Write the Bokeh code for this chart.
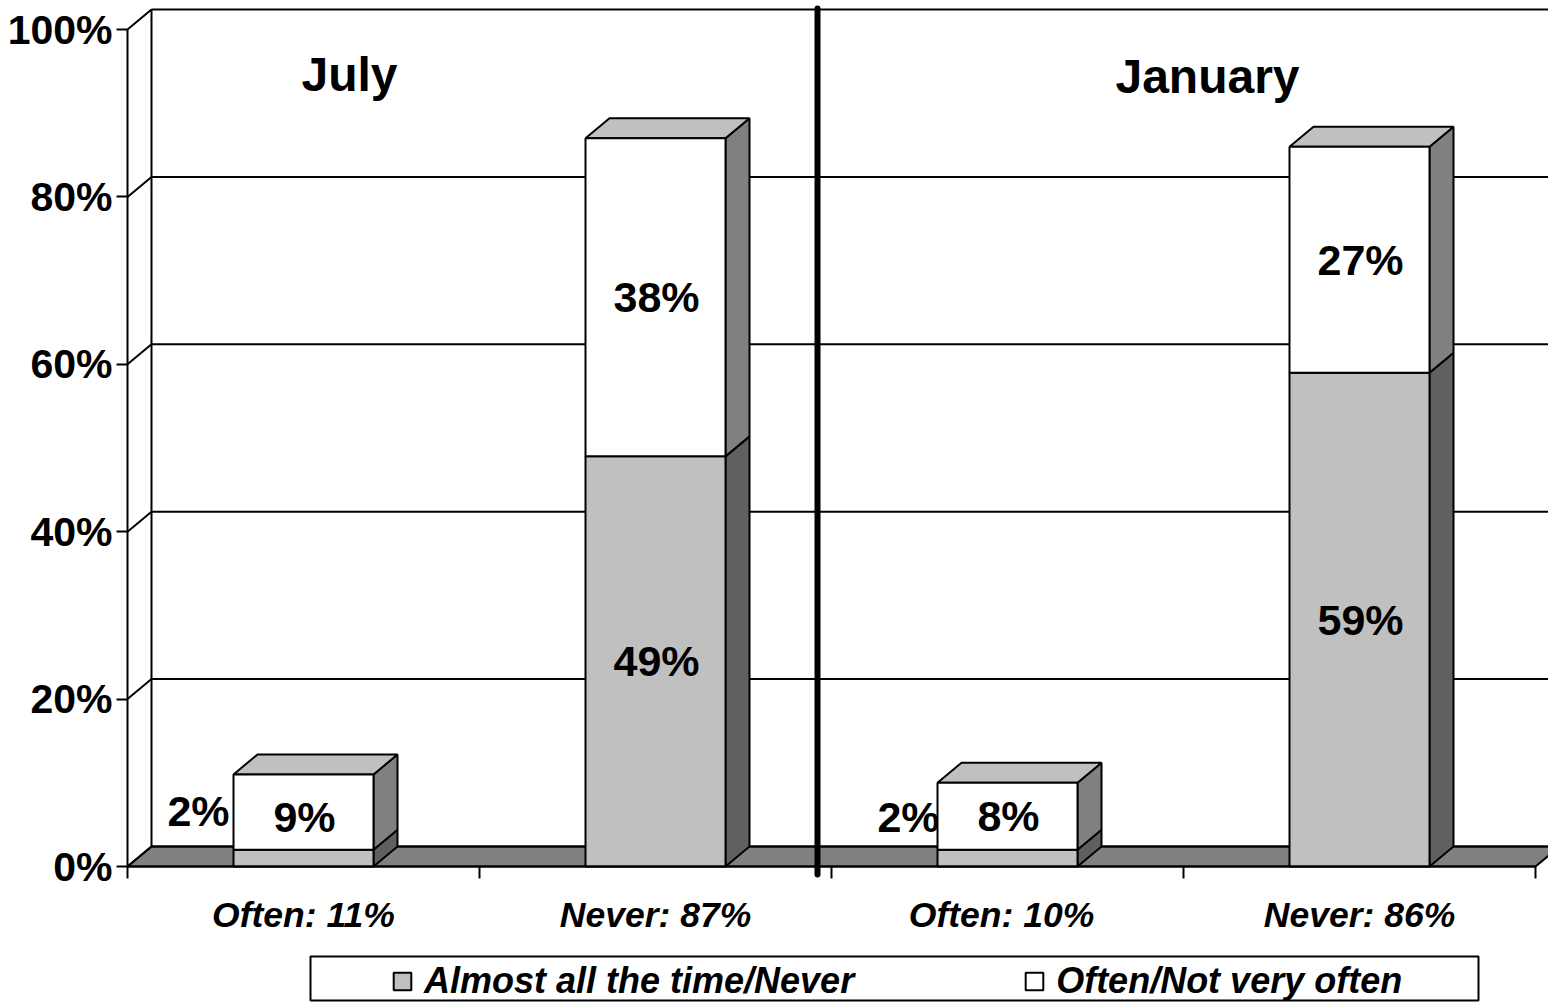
from bokeh.plotting import figure
from bokeh.embed import file_html
from bokeh.resources import INLINE
from bokeh.core.properties import value
from bokeh.models import FixedTicker, Range1d, LinearAxis, Legend, LegendItem, BoxAnnotation

# ---- data
categories = ["Often: 11%", "Never: 87%", "Often: 10%", "Never: 86%"]
almost_all = [2, 49, 2, 59]
often_not = [9, 38, 8, 27]
y_ticks = [0, 20, 40, 60, 80, 100]
y_tick_labels = ["0%", "20%", "40%", "60%", "80%", "100%"]
low_label_text = ["2%", "49%", "2%", "59%"]
high_label_text = ["9%", "38%", "8%", "27%"]
legend_labels = ["Almost all the time/Never", "Often/Not very often"]
period_titles = ["July", "January"]

# ---- layout (page pixels -> data units)
W, H = 1548, 1002
X0, Y0 = 127, 866      # page px of category 0 / 0 %
SX, SY = 352.0, 8.37   # px per category / per percent
def dx(px): return (px - X0) / SX
def dy(py): return (Y0 - py) / SY
DEPTH_X, DEPTH_Y = 24 / SX, 20 / SY
BAR_W = 140 / SX
FONT = "Liberation Sans"
GREY, WHITE, TOP, SIDE_D, SIDE_L, FLOOR = "#C0C0C0", "#FFFFFF", "#C0C0C0", "#606060", "#808080", "#808080"

p = figure(width=W, height=H, output_backend="svg", toolbar_location=None,
           x_range=Range1d(dx(0), dx(W)), y_range=Range1d(dy(H), dy(0)),
           x_axis_location=None, y_axis_location=None, min_border=0)
p.outline_line_color = None
p.grid.visible = False
lk = dict(line_color="black", line_width=2)

n_cat = len(categories)
xend = n_cat + DEPTH_X

# floor and back wall
p.patch([0, DEPTH_X, xend, n_cat], [0, DEPTH_Y, DEPTH_Y, 0], fill_color=FLOOR, **lk)
p.segment([0] * len(y_ticks), y_ticks, [DEPTH_X] * len(y_ticks), [t + DEPTH_Y for t in y_ticks], **lk)
p.segment([DEPTH_X] * len(y_ticks), [t + DEPTH_Y for t in y_ticks], [xend] * len(y_ticks),
          [t + DEPTH_Y for t in y_ticks], **lk)
p.segment([DEPTH_X], [DEPTH_Y], [DEPTH_X], [max(y_ticks) + DEPTH_Y], **lk)

# outside labels go behind the bars
centers = [i + 0.5 for i in range(n_cat)]
tf = dict(text_font=value(FONT), text_font_style="bold", text_color="black",
          text_align="center", text_baseline="middle")
small_x = [dx(198), dx(908)]
small_y = [dy(810), dy(816)]
p.text(small_x, small_y, text=[low_label_text[0], low_label_text[2]], text_font_size="43px", **tf)

# bars
lefts = [c - BAR_W / 2 for c in centers]
rights = [c + BAR_W / 2 for c in centers]
tops1 = almost_all
tops2 = [a + b for a, b in zip(almost_all, often_not)]

def side(b, t):
    xs = [[r, r + DEPTH_X, r + DEPTH_X, r] for r in rights]
    ys = [[bb, bb + DEPTH_Y, tt + DEPTH_Y, tt] for bb, tt in zip(b, t)]
    return xs, ys

xs, ys = side([0] * n_cat, tops1)
p.patches(xs, ys, fill_color=SIDE_D, **lk)
xs, ys = side(tops1, tops2)
p.patches(xs, ys, fill_color=SIDE_L, **lk)
p.patches([[l, l + DEPTH_X, r + DEPTH_X, r] for l, r in zip(lefts, rights)],
          [[t, t + DEPTH_Y, t + DEPTH_Y, t] for t in tops2], fill_color=TOP, **lk)
r_low = p.quad(left=lefts, right=rights, bottom=[0] * n_cat, top=tops1, fill_color=GREY, **lk)
r_high = p.quad(left=lefts, right=rights, bottom=tops1, top=tops2, fill_color=WHITE, **lk)

# labels on the bars
hx = [c + dx(X0 + 1) for c in centers]
hy = [a + b / 2 for a, b in zip(almost_all, often_not)]
hy[0] -= 0.6
p.text(hx, hy, text=high_label_text, text_font_size="43px", **tf)
p.text([hx[1], hx[3]], [almost_all[1] / 2, almost_all[3] / 2],
       text=[low_label_text[1], low_label_text[3]], text_font_size="43px", **tf)

# period titles and separator
p.text([dx(349), dx(1207)], [dy(74), dy(76)], text=period_titles, text_font_size="48px", **tf)
p.segment([dx(817)], [dy(874)], [dx(817)], [dy(8)], line_color="black", line_width=6, line_cap="round")

# axes
yax = LinearAxis(ticker=FixedTicker(ticks=y_ticks), fixed_location=0, bounds=(0, 100))
yax.major_label_overrides = {t: s for t, s in zip(y_ticks, y_tick_labels)}
yax.major_label_text_font = FONT
yax.major_label_text_font_style = "bold"
yax.major_label_text_font_size = "41px"
yax.major_label_text_color = "black"
yax.major_label_standoff = 4
yax.major_tick_out = 11
yax.major_tick_in = 0
yax.minor_tick_line_color = None
yax.axis_line_width = 2
yax.major_tick_line_width = 2
yax.axis_line_color = "black"
yax.major_tick_line_color = "black"
p.add_layout(yax, "left")

label_at = list(centers)
label_at[2] -= dx(X0 + 6)
xax = LinearAxis(ticker=FixedTicker(ticks=label_at, minor_ticks=list(range(n_cat + 1))),
                 fixed_location=0, bounds=(0, n_cat))
xax.major_label_overrides = {c: s for c, s in zip(label_at, categories)}
xax.major_label_text_font = FONT
xax.major_label_text_font_style = "bold italic"
xax.major_label_text_font_size = "35.5px"
xax.major_label_text_color = "black"
xax.major_label_standoff = 16
xax.major_tick_line_color = None
xax.major_tick_out = 0
xax.major_tick_in = 0
xax.minor_tick_out = 12
xax.minor_tick_in = 0
xax.minor_tick_line_width = 2
xax.minor_tick_line_color = "black"
xax.axis_line_width = 2
xax.axis_line_color = "black"
p.add_layout(xax, "below")

# legend box and legend
p.add_layout(BoxAnnotation(left=dx(310), right=dx(1478), bottom=dy(1000), top=dy(956),
                           fill_color="white", fill_alpha=1, line_color="black", line_alpha=1,
                           line_width=2, level="annotation"))
leg = Legend(items=[LegendItem(label=legend_labels[0], renderers=[r_low]),
                    LegendItem(label=legend_labels[1], renderers=[r_high])],
             orientation="horizontal", location=(391, 0), padding=0, margin=0,
             spacing=169, label_standoff=11, glyph_width=22, glyph_height=22,
             label_text_font=FONT, label_text_font_style="bold italic", label_text_font_size="36px",
             label_text_color="black", border_line_color=None, background_fill_alpha=0)
p.add_layout(leg, "center")

open("out.html", "w").write(file_html(p, INLINE))
